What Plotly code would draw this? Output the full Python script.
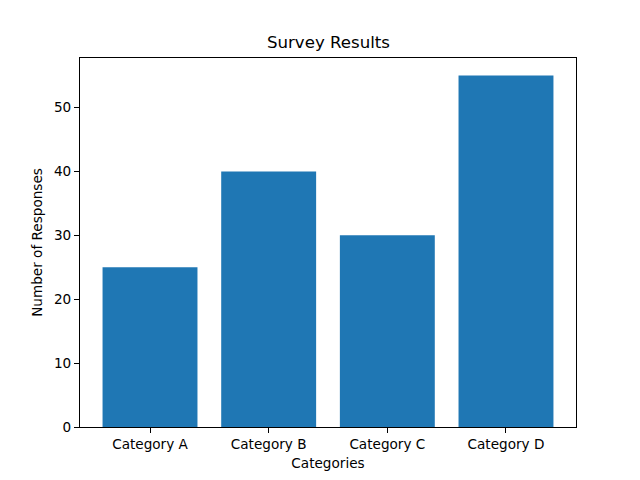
import plotly.graph_objects as go

# Survey data
categories = ["Category A", "Category B", "Category C", "Category D"]
responses = [25, 40, 30, 55]

fig = go.Figure()
fig.add_trace(go.Bar(x=categories, y=responses, marker_color="#1f77b4",
                     marker_line_width=0, width=0.8))

axis_style = dict(showline=True, linecolor="black", linewidth=1.1, mirror=True,
                  ticks="outside", ticklen=5, tickcolor="black", tickwidth=1.1,
                  showgrid=False, zeroline=False,
                  tickfont=dict(family="DejaVu Sans", size=13.6, color="black"),
                  title_font=dict(family="DejaVu Sans", size=13.6, color="black"))

# page body adds an 8px offset, so margins are shifted to compensate
fig.update_layout(
    width=640, height=480,
    plot_bgcolor="white", paper_bgcolor="white",
    margin=dict(l=72, r=72, t=50, b=61),
    showlegend=False,
    annotations=[dict(text="Survey Results", x=0.5, y=1, xref="paper", yref="paper",
                      xanchor="center", yanchor="bottom", yshift=4, showarrow=False,
                      font=dict(family="DejaVu Sans", size=16.6, color="black"))],
)
fig.update_xaxes(title_text="Categories", title_standoff=7,
                 range=[-0.59, 3.59], **axis_style)
fig.update_yaxes(title_text="Number of Responses", title_standoff=8,
                 range=[0, 57.75], tickvals=[0, 10, 20, 30, 40, 50], **axis_style)

fig.write_html("out.html")
